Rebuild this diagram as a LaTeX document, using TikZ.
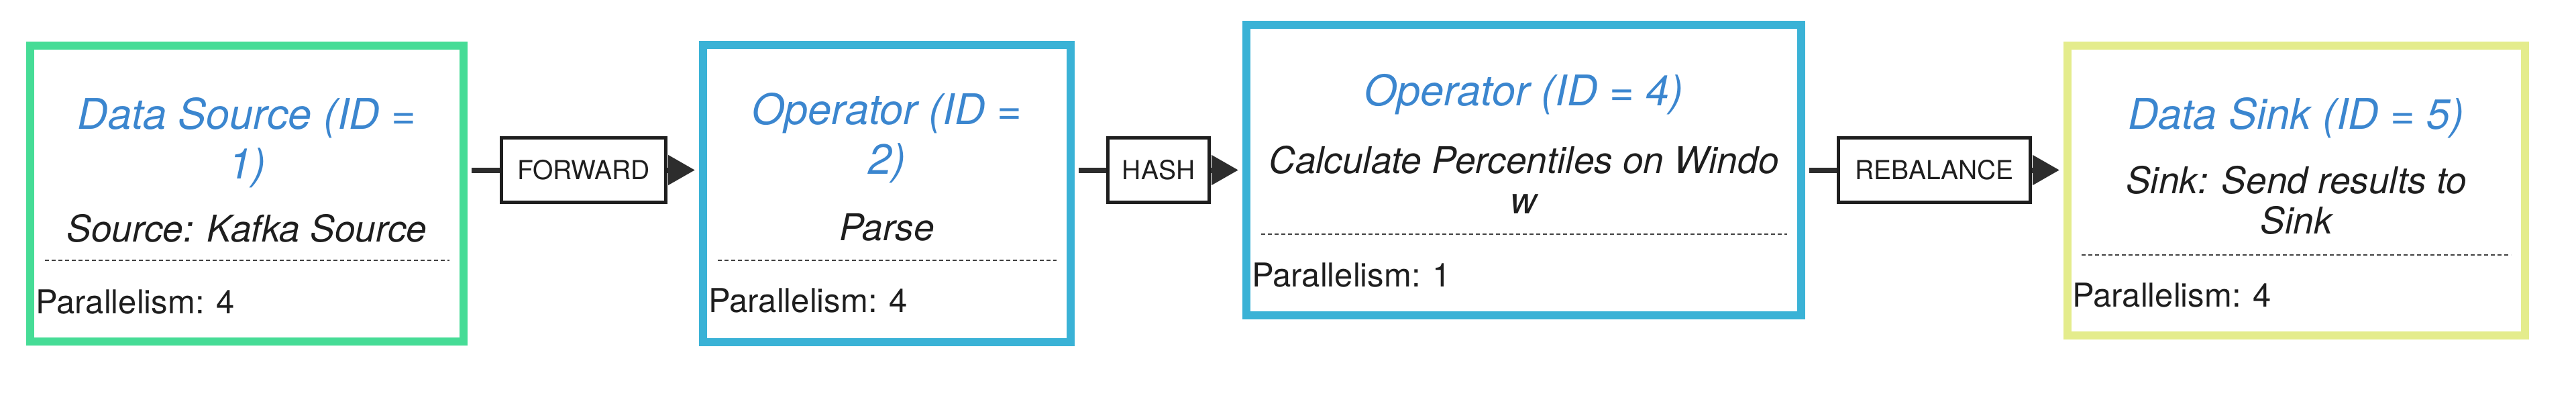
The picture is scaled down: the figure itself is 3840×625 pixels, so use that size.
\documentclass[tikz,border=0pt]{standalone}
\usepackage{fontspec}
\setmainfont{TeX Gyre Heros}
\usetikzlibrary{arrows.meta}
\definecolor{srcgreen}{RGB}{70,220,150}
\definecolor{opblue}{RGB}{58,178,214}
\definecolor{sinkyellow}{RGB}{228,236,140}
\definecolor{titleblue}{RGB}{59,134,207}
\definecolor{ink}{RGB}{30,30,30}
\definecolor{conncol}{RGB}{45,45,45}
\begin{document}
\begin{tikzpicture}[x=1pt,y=-1pt,
  stagebox/.style={draw=#1, line width=12pt, inner sep=0pt, fill=white},
  ttl/.style={anchor=base, text=titleblue, inner sep=0pt, font=\fontsize{63}{74}\selectfont\itshape},
  desc/.style={anchor=base, text=ink, inner sep=0pt, font=\fontsize{55}{62}\selectfont\itshape},
  para/.style={anchor=base west, text=ink, inner sep=0pt, font=\fontsize{49}{58}\selectfont},
  lbl/.style={draw=ink, line width=5pt, fill=white, inner sep=0pt, text=ink, font=\fontsize{39}{46}\selectfont},
  conn/.style={draw=conncol, line width=8pt},
  arr/.style={conn, -{Triangle[length=40pt,width=43pt]}},
  sepline/.style={draw=ink!85, line width=2pt, dash pattern=on 6pt off 4pt}]
\useasboundingbox[fill=white] (0,0) rectangle (3840,625);

% stage boxes
\node[stagebox=srcgreen, minimum width=646pt, minimum height=441pt] (b1) at (368,288.5) {};
\node[stagebox=opblue, minimum width=548pt, minimum height=443pt] (b2) at (1322,288.5) {};
\node[stagebox=opblue, minimum width=827pt, minimum height=433pt] (b3) at (2271.5,253.5) {};
\node[stagebox=sinkyellow, minimum width=682pt, minimum height=432pt] (b4) at (3423,284) {};

% partition labels
\node[lbl, minimum width=245pt, minimum height=96pt] (f) at (870,253.5) {FORWARD};
\node[lbl, minimum width=151pt, minimum height=96pt] (h) at (1727,253.5) {HASH};
\node[lbl, minimum width=286pt, minimum height=96pt] (r) at (2883.5,253.5) {REBALANCE};

% connectors
\draw[conn, shorten <=6pt] (b1.east |- f.west) -- (f.west);
\draw[arr, shorten >=6pt] (f.east) -- (b2.west |- f.east);
\draw[conn, shorten <=6pt] (b2.east |- h.west) -- (h.west);
\draw[arr, shorten >=6pt] (h.east) -- (b3.west |- h.east);
\draw[conn, shorten <=6pt] (b3.east |- r.west) -- (r.west);
\draw[arr, shorten >=6pt] (r.east) -- (b4.west |- r.east);

% box 1
\node[ttl] (t1a) at (368,192) {Data Source (ID =};
\node[ttl] (t1b) at (368,266) {1)};
\node[desc] (d1) at (368,360) {Source: Kafka Source};
\draw[sepline] (67,388) -- (670,388);
\node[para] (p1) at (53,467) {Parallelism: 4};

% box 2
\node[ttl] (t2a) at (1322,185) {Operator (ID =};
\node[ttl] (t2b) at (1322,259) {2)};
\node[desc] (d2) at (1322,358) {Parse};
\draw[sepline] (1070,388) -- (1575,388);
\node[para] (p2) at (1056,465) {Parallelism: 4};

% box 3
\node[ttl] (t3a) at (2271.5,157) {Operator (ID = 4)};
\node[desc] (d3a) at (2271.5,258) {Calculate Percentiles on Windo};
\node[desc] (d3b) at (2271.5,318) {w};
\draw[sepline] (1880,349) -- (2664,349);
\node[para] (p3) at (1866,427) {Parallelism: 1};

% box 4
\node[ttl] (t4a) at (3423,192) {Data Sink (ID = 5)};
\node[desc] (d4a) at (3423,288) {Sink: Send results to};
\node[desc] (d4b) at (3423,348) {Sink};
\draw[sepline] (3103,380) -- (3743,380);
\node[para] (p4) at (3089,457) {Parallelism: 4};
\end{tikzpicture}
\end{document}
